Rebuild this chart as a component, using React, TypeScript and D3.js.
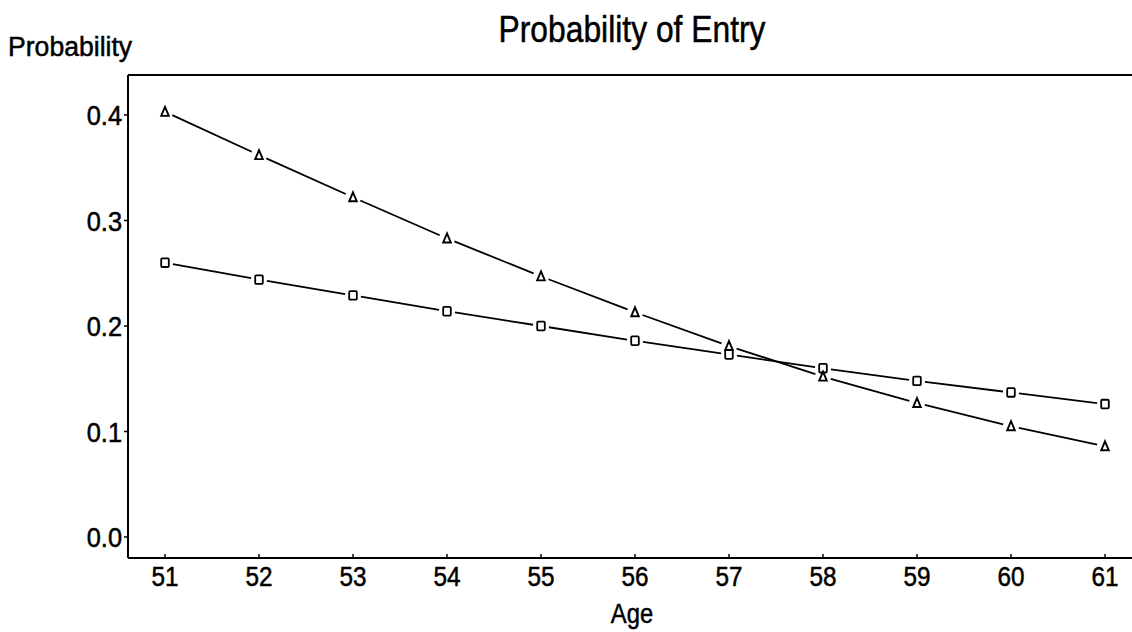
import React from "react";
import * as d3 from "d3";

const ages = [51, 52, 53, 54, 55, 56, 57, 58, 59, 60, 61];
const triangleSeries = [0.403, 0.362, 0.322, 0.283, 0.247, 0.213, 0.181, 0.152, 0.127, 0.105, 0.086];
const squareSeries = [0.260, 0.244, 0.229, 0.214, 0.200, 0.186, 0.173, 0.160, 0.148, 0.137, 0.126];
const yTicks = [0.0, 0.1, 0.2, 0.3, 0.4];
const titleText = "Probability of Entry";
const yLabel = "Probability";
const xLabel = "Age";

const W = 1132;
const H = 632;
const left = 128;
const top = 75;
const bottom = 558;
const right = 1132;
const FONT = "'Liberation Sans', Arial, sans-serif";

function SText({ x, y, sx, size, anchor, children }: any) {
  return (
    <g transform={`translate(${x},${y}) scale(${sx},1)`}>
      <text x={0} y={0} textAnchor={anchor} fontFamily={FONT} fontSize={size}
        stroke="#000" strokeWidth={0.5}>{children}</text>
    </g>
  );
}

export default function App() {
  const x = d3.scaleLinear().domain([51, 61]).range([165, 1105]);
  const y = d3.scaleLinear().domain([0, 0.4]).range([537, 115]);

  const gap = 8;
  const segs = (vals: number[]) =>
    vals.slice(1).map((v, i) => {
      const x0 = x(ages[i]), y0 = y(vals[i]);
      const x1 = x(ages[i + 1]), y1 = y(v);
      const dx = x1 - x0, dy = y1 - y0;
      const len = Math.hypot(dx, dy);
      const ux = dx / len, uy = dy / len;
      return (
        <line key={i} x1={x0 + ux * gap} y1={y0 + uy * gap} x2={x1 - ux * gap} y2={y1 - uy * gap}
          stroke="#000" strokeWidth={1.8} />
      );
    });

  return (
    <svg width={W} height={H} style={{ position: "absolute", left: 0, top: 0, background: "#fff" }}>
      <rect x={0} y={0} width={W} height={H} fill="#fff" />
      {/* frame */}
      <line x1={left} y1={top} x2={right} y2={top} stroke="#000" strokeWidth={2} />
      <line x1={left} y1={top} x2={left} y2={bottom} stroke="#000" strokeWidth={2} />
      <line x1={left} y1={bottom} x2={right} y2={bottom} stroke="#000" strokeWidth={2} />
      {/* y ticks */}
      {yTicks.map((t) => (
        <g key={t}>
          <line x1={left - 4} x2={left} y1={y(t)} y2={y(t)} stroke="#000" strokeWidth={1.5} />
          <SText x={left - 6} y={y(t) + 10} sx={0.94} size={27} anchor="end">{t.toFixed(1)}</SText>
        </g>
      ))}
      {/* x ticks */}
      {ages.map((a) => (
        <g key={a}>
          <line x1={x(a)} x2={x(a)} y1={bottom - 4} y2={bottom} stroke="#000" strokeWidth={1.5} />
          <SText x={x(a)} y={bottom + 28} sx={0.9} size={27} anchor="middle">{a}</SText>
        </g>
      ))}
      {/* labels */}
      <SText x={632} y={42} sx={0.86} size={37} anchor="middle">{titleText}</SText>
      <SText x={8} y={56} sx={0.95} size={28} anchor="start">{yLabel}</SText>
      <SText x={632} y={623} sx={0.85} size={28} anchor="middle">{xLabel}</SText>
      {/* series */}
      {segs(triangleSeries)}
      {segs(squareSeries)}
      {ages.map((a, i) => {
        const cx = x(a), cy = y(triangleSeries[i]);
        return (
          <path key={"t" + a}
            d={`M${cx},${cy - 5} L${cx + 3.8},${cy + 4} L${cx - 3.8},${cy + 4} Z`}
            fill="none" stroke="#000" strokeWidth={1.9} strokeLinejoin="miter" />
        );
      })}
      {ages.map((a, i) => {
        const cx = x(a), cy = y(squareSeries[i]);
        return (
          <rect key={"s" + a} x={cx - 3.8} y={cy - 4.3} width={7.6} height={8.6} rx={1}
            fill="none" stroke="#000" strokeWidth={1.8} />
        );
      })}
    </svg>
  );
}
